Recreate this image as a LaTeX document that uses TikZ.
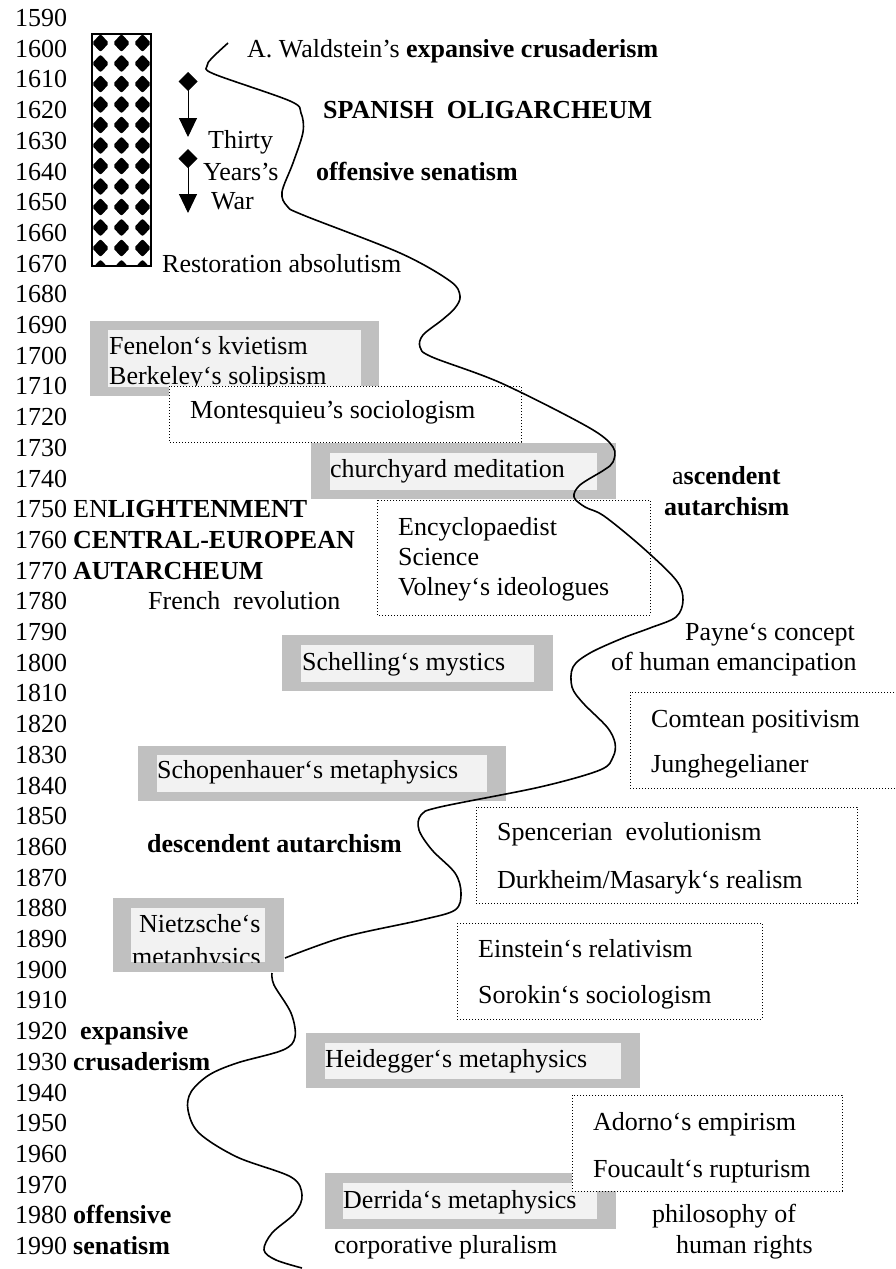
\documentclass[tikz,border=0pt]{standalone}
\usepackage{fontspec}
\setmainfont{Liberation Serif}
\usetikzlibrary{arrows.meta}
\definecolor{framegray}{HTML}{C0C0C0}
\definecolor{boxfill}{HTML}{F2F2F2}

\begin{document}
\begin{tikzpicture}[x=1pt,y=-1pt,
  every node/.style={font=\fontsize{26}{31}\selectfont},
  lbl/.style={anchor=base west,inner sep=0pt},
  grayframe/.style={fill=framegray},
  pane/.style={fill=boxfill},
  dotbox/.style={draw,fill=white,line width=1pt,dash pattern=on 1pt off 2pt},
  wave/.style={line width=1.6pt,line join=round}]
\fill[white] (0,0) rectangle (895,1269);
\useasboundingbox (0,0) rectangle (895,1269);

\foreach \yr [count=\k from 0] in {1590,1600,...,1990}
  \node[lbl] (y\yr) at ({15},{26.5+30.7*\k}) {\yr};

\begin{scope}
\clip (92,34) rectangle (151,266);
\foreach \i in {0,...,2}
  \foreach \j in {0,...,11}
    \fill[rounded corners=2pt] ({100.5-8.5+21*\i},{43+20.5*\j}) -- ++(8.5,-9) -- ++(8.5,9) -- ++(-8.5,9) -- cycle;
\end{scope}
\draw[line width=1.2pt] (92,34) rectangle (151,266);

\draw[line width=1pt,{Diamond[width=19pt,length=19pt]}-{Triangle[width=18pt,length=19pt]}] (188,72) -- (188,137);
\draw[line width=1pt,{Diamond[width=19pt,length=19pt]}-{Triangle[width=18pt,length=19pt]}] (188,149) -- (188,213);
\node[lbl] (thirty) at (208,148) {Thirty};
\node[lbl] (years) at (203,180) {Years’s};
\node[lbl] (war) at (211,209) {War};

\node[lbl] (waldstein) at (247,57) {A. Waldstein’s \textbf{expansive crusaderism}};
\node[lbl] (spanish) at (323,118) {\textbf{SPANISH\ \ OLIGARCHEUM}};
\node[lbl] (senat1) at (316,180) {\textbf{offensive senatism}};
\node[lbl] (restor) at (162,272) {Restoration absolutism};

\fill[grayframe] (90,321) rectangle (379,396);
\fill[pane] (108,330) rectangle (361,387);
\node[lbl] (fenelon) at (109,354) {Fenelon‘s kvietism};
\node[lbl] (berkeley) at (109,384) {Berkeley‘s solipsism};

\filldraw[dotbox] (169,386) rectangle (521,442);
\node[lbl] (montesq) at (190,418) {Montesquieu’s sociologism};

\fill[grayframe] (311,443) rectangle (616,499);
\fill[pane] (330,453) rectangle (597,490);
\node[lbl] (church) at (330,477) {churchyard meditation};

\node[lbl] (ascend) at (672,484) {a\textbf{scendent}};
\node[lbl] (autarch1) at (664,515) {\textbf{autarchism}};

\node[lbl] (enlight) at (73,0 |- y1750.base) {EN\textbf{LIGHTENMENT}};
\node[lbl] (central) at (73,0 |- y1760.base) {\textbf{CENTRAL-EUROPEAN}};
\node[lbl] (autarcheum) at (73,0 |- y1770.base) {\textbf{AUTARCHEUM}};
\node[lbl] (french) at (148,0 |- y1780.base) {French\ \ revolution};

\filldraw[dotbox] (377,500) rectangle (650,615);
\node[lbl] (encyc) at (398,535) {Encyclopaedist};
\node[lbl] (science) at (398,565) {Science};
\node[lbl] (volney) at (398,595) {Volney‘s ideologues};

\node[lbl] (payne) at (685,640) {Payne‘s concept};
\node[lbl] (emanc) at (611,670) {of human emancipation};

\fill[grayframe] (282,635) rectangle (553,691);
\fill[pane] (301,645) rectangle (534,682);
\node[lbl] (schelling) at (302,670) {Schelling‘s mystics};

\filldraw[dotbox] (630,692) rectangle (900,788);
\node[lbl] (comte) at (651,727) {Comtean positivism};
\node[lbl] (jung) at (651,772) {Junghegelianer};

\fill[grayframe] (138,746) rectangle (506,801);
\fill[pane] (157,755) rectangle (487,792);
\node[lbl] (schop) at (157,778) {Schopenhauer‘s metaphysics};

\node[lbl] (descend) at (147,852) {\textbf{descendent autarchism}};

\filldraw[dotbox] (476,807) rectangle (857,903);
\node[lbl] (spencer) at (497,840) {Spencerian\ \ evolutionism};
\node[lbl] (durkheim) at (497,888) {Durkheim/Masaryk‘s realism};

\fill[grayframe] (113,898) rectangle (284,972);
\fill[pane] (131,908) rectangle (265,962);
\begin{scope}
\clip (131,908) rectangle (265,962);
\node[lbl] (nietzsche) at (139,932) {Nietzsche‘s};
\node[lbl] (nietzmeta) at (132,965) {metaphysics};
\end{scope}

\filldraw[dotbox] (457,923) rectangle (762,1019);
\node[lbl] (einstein) at (478,957) {Einstein‘s relativism};
\node[lbl] (sorokin) at (478,1003) {Sorokin‘s sociologism};

\node[lbl] (expans) at (80,0 |- y1920.base) {\textbf{expansive}};
\node[lbl] (crusad) at (73,0 |- y1930.base) {\textbf{crusaderism}};

\fill[grayframe] (306,1033) rectangle (640,1088);
\fill[pane] (325,1043) rectangle (621,1079);
\node[lbl] (heidegger) at (325,1067) {Heidegger‘s metaphysics};

\fill[grayframe] (325,1173) rectangle (616,1229);
\fill[pane] (343,1183) rectangle (597,1219);
\node[lbl] (derrida) at (343,1208) {Derrida‘s metaphysics};

\filldraw[dotbox] (572,1095) rectangle (842,1191);
\node[lbl] (adorno) at (593,1130) {Adorno‘s empirism};
\node[lbl] (foucault) at (593,1177) {Foucault‘s rupturism};

\node[lbl] (offens) at (73,0 |- y1980.base) {\textbf{offensive}};
\node[lbl] (senat2) at (73,0 |- y1990.base) {\textbf{senatism}};
\node[lbl] (corpor) at (334,1253) {corporative pluralism};
\node[lbl] (philos) at (652,1222) {philosophy of};
\node[lbl] (rights) at (676,1253) {human rights};

\draw[wave] plot[smooth,tension=0.55] coordinates {(228,43) (212,58) (207,66) (214,74) (290,101) (301,113) (303,132) (293,163) (282,192) (287,206) (303,215) (400,253) (450,281) (460,296) (455,308) (442,320) (423,335) (420,347) (432,357) (501,383) (588,427) (613,447) (613,462) (604,470) (580,485) (574,497) (585,507) (604,516) (642,547) (676,580) (683,600) (676,617) (650,628) (623,638) (590,653) (573,667) (572,687) (583,703) (607,727) (615,743) (613,757) (600,770) (540,787) (440,807) (421,815) (419,830) (432,850) (455,873) (461,893) (455,910) (421,920) (344,937) (285,958)};
\draw[wave] plot[smooth,tension=0.55] coordinates {(272,973) (274,985) (291,1013) (295,1037) (283,1050) (237,1063) (209,1075) (191,1092) (188,1110) (199,1133) (237,1157) (291,1177) (302,1195) (295,1213) (272,1233) (264,1250) (276,1260) (302,1268)};
\end{tikzpicture}
\end{document}
